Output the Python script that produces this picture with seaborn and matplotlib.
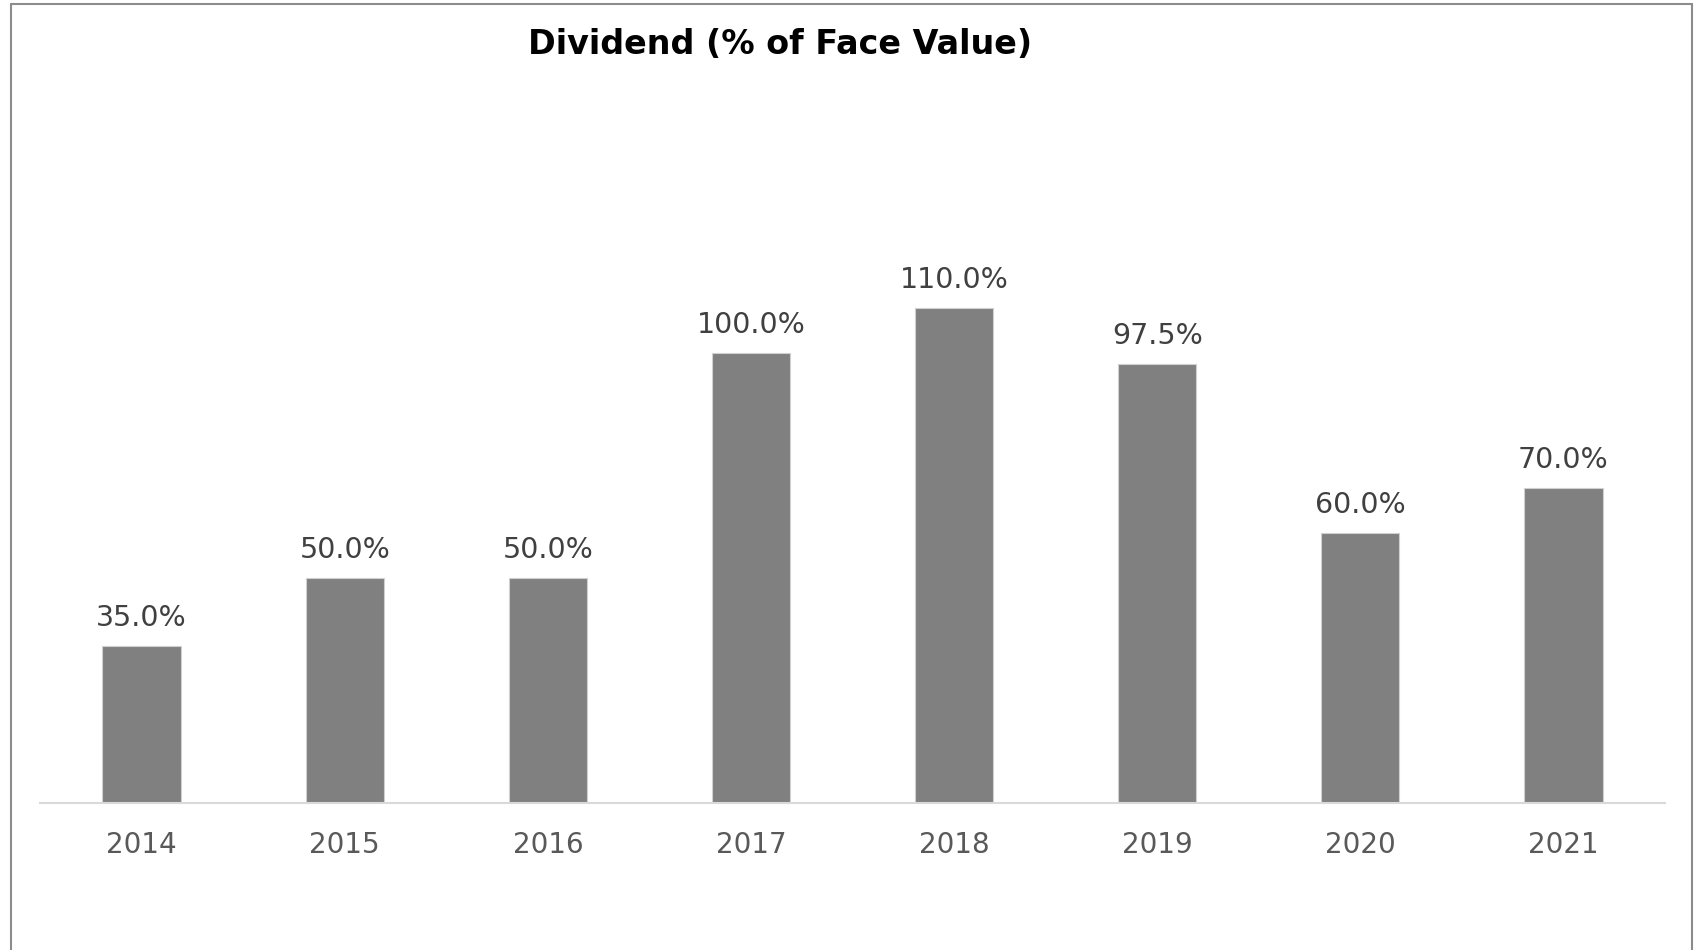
import pandas as pd
import matplotlib.pyplot as plt
import seaborn as sns
from matplotlib.lines import Line2D

years = ["2014", "2015", "2016", "2017", "2018", "2019", "2020", "2021"]
dividend_pct = [35.0, 50.0, 50.0, 100.0, 110.0, 97.5, 60.0, 70.0]
title = "Dividend (% of Face Value)"

df = pd.DataFrame({"Year": years, "Dividend": dividend_pct})

sns.set_theme(style="white")
plt.rcParams['font.family'] = ['DejaVu Sans']

fig = plt.figure(figsize=(16.94, 9.5), dpi=100)
ax = fig.add_axes([40 / 1694, 147 / 950, 1625 / 1694, 630 / 950])

sns.barplot(data=df, x="Year", y="Dividend", color="#808080", saturation=1,
            width=0.385, edgecolor="#d0d0d0", linewidth=0.8, ax=ax)

ax.set_xlim(-0.5, len(years) - 0.5)
ax.set_ylim(0, 140)
ax.set_xlabel("")
ax.set_ylabel("")
ax.set_yticks([])
for side in ["top", "left", "right"]:
    ax.spines[side].set_visible(False)
ax.spines["bottom"].set_color("#d9d9d9")
ax.spines["bottom"].set_linewidth(1.5)
ax.tick_params(axis="x", length=0, pad=20, labelsize=20, labelcolor="#595959")

for i, v in enumerate(dividend_pct):
    ax.text(i, v + 4.4, f"{v:.1f}%", ha="center", va="baseline",
            fontsize=20.5, color="#404040")

fig.text(780 / 1694, 1 - 45 / 950, title, ha="center", va="center",
         fontsize=24, fontweight="bold", color="black")

# outer chart frame
frame_kw = dict(transform=fig.transFigure, color="#8c8c8c", linewidth=1.5)
fig.add_artist(Line2D([11 / 1694, 11 / 1694], [0, 1 - 4 / 950], **frame_kw))
fig.add_artist(Line2D([11 / 1694, 1692 / 1694], [1 - 4 / 950, 1 - 4 / 950], **frame_kw))
fig.add_artist(Line2D([1692 / 1694, 1692 / 1694], [0, 1 - 4 / 950], **frame_kw))

fig.savefig("out.png", dpi=100)
